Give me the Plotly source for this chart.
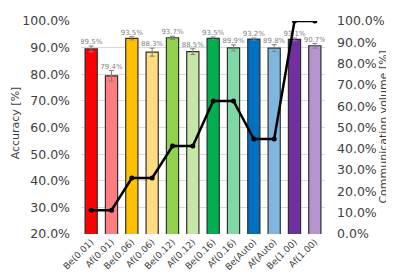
import plotly.graph_objects as go

categories = ["Be(0.01)", "Af(0.01)", "Be(0.06)", "Af(0.06)", "Be(0.12)", "Af(0.12)",
              "Be(0.16)", "Af(0.16)", "Be(Auto)", "Af(Auto)", "Be(1.00)", "Af(1.00)"]
accuracy = [89.5, 79.4, 93.5, 88.3, 93.7, 88.5, 93.5, 89.9, 93.2, 89.8, 93.1, 90.7]
acc_err = [1.1, 2.0, 0.6, 1.5, 0.6, 1.1, 0.5, 1.1, 0.4, 1.3, 0.5, 0.9]
comm_volume = [11.2, 11.2, 26.3, 26.3, 41.3, 41.3, 62.5, 62.5, 44.6, 44.6, 100.0, 100.0]
colors = ["#FF0000", "#FF7C80", "#FFC000", "#FFDC7F", "#92D050", "#C5E6A6",
          "#00B050", "#80D8A6", "#0070C0", "#7FB6DF", "#7030A0", "#B594D0"]

font = "DejaVu Sans"

fig = go.Figure()
fig.add_trace(go.Bar(
    x=categories, y=accuracy,
    marker=dict(color=colors, line=dict(color="#303030", width=1.2)),
    error_y=dict(type="data", array=acc_err, color="#808080", thickness=1, width=2.5),
    width=0.6, showlegend=False,
))
fig.add_trace(go.Scatter(
    x=categories, y=[a + e for a, e in zip(accuracy, acc_err)],
    mode="text", text=[f"{a:.1f}%" for a in accuracy],
    textposition="top center",
    textfont=dict(family=font, size=7, color="#7F7F7F"),
    showlegend=False, hoverinfo="skip",
))
fig.add_trace(go.Scatter(
    x=categories, y=comm_volume, yaxis="y2",
    mode="lines+markers",
    line=dict(color="black", width=2.5),
    marker=dict(color="black", size=5),
    showlegend=False,
))

fig.update_layout(
    width=394, height=273,
    margin=dict(l=73, r=77, t=13, b=47),
    paper_bgcolor="white", plot_bgcolor="white",
    font=dict(family=font, size=12, color="#404040"),
    xaxis=dict(tickangle=-45, tickfont=dict(size=9, color="#404040"),
               range=[-0.5, len(categories) - 0.5],
               showline=False, showgrid=False, ticks="", automargin=False),
    yaxis=dict(range=[20, 100], dtick=10, tickformat=".1f", ticksuffix="%",
               showgrid=True, gridcolor="#D9D9D9", gridwidth=1, zeroline=False,
               automargin=False, ticklabelstandoff=10,
               tickfont=dict(size=12.5, color="#404040")),
    yaxis2=dict(range=[0, 100], dtick=10, tickformat=".1f", ticksuffix="%",
                overlaying="y", side="right", showgrid=False, zeroline=False,
                automargin=False, ticklabelstandoff=11,
                tickfont=dict(size=12.5, color="#404040")),
    bargap=0.4,
    annotations=[
        dict(text="Accuracy [%]", xref="paper", yref="paper", x=-0.27, y=0.52,
             textangle=-90, showarrow=False, font=dict(size=11, color="#404040"),
             xanchor="center", yanchor="middle"),
        dict(text="Communication volume [%]", xref="paper", yref="paper", x=1.238, y=0.5,
             textangle=-90, showarrow=False, font=dict(size=11, color="#404040"),
             xanchor="center", yanchor="middle"),
    ],
)

fig.write_html("out.html")
